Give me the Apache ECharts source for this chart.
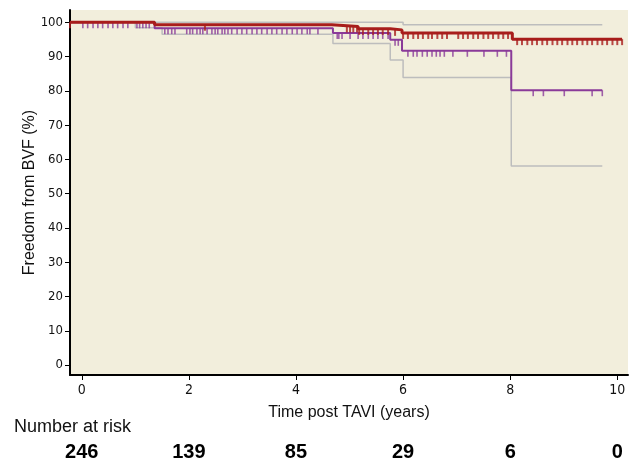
<!DOCTYPE html>
<html lang="en">
<head>
<meta charset="UTF-8">
<title>Freedom from BVF</title>
<style>
  html, body { margin: 0; padding: 0; background: #fff; }
  #main { width: 638px; height: 462px; }
</style>
</head>
<body>
<div id="main"></div>
<script src="https://cdn.jsdelivr.net/npm/echarts@6/dist/echarts.min.js"></script>
<script>
// axis ranges and ticks
const xMin = -0.22, xMax = 10.2;
const xTicks = [0, 2, 4, 6, 8, 10];
const yTicks = [0, 10, 20, 30, 40, 50, 60, 70, 80, 90, 100];
const riskCounts = [246, 139, 85, 29, 6, 0];

// red Kaplan-Meier curve
const redTimes = [xMin, 1.36, 4.67, 5.16, 5.76, 5.98, 8.04, 10.09];
const redSurv  = [100, 99.3, 98.8, 98.1, 97.8, 96.9, 95.1, 95.1];
const redCensor = [xMin, 2.30, 4.95, 5.01, 5.07, 5.14, 5.18, 5.25, 5.35, 5.44, 5.53, 5.62, 5.72, 5.85,
  6.00, 6.09, 6.19, 6.28, 6.37, 6.47, 6.54, 6.64, 6.73, 6.82, 7.03, 7.12, 7.21, 7.31, 7.40, 7.50,
  7.59, 7.68, 7.78, 7.87, 7.96, 8.13, 8.22, 8.32, 8.41, 8.50, 8.60, 8.69, 8.79, 8.88, 8.97, 9.07,
  9.16, 9.25, 9.35, 9.44, 9.53, 9.63, 9.72, 9.81, 9.91, 10.00, 10.09];

// purple Kaplan-Meier curve
const purpleTimes = [xMin, 1.36, 4.69, 5.76, 5.98, 8.02, 9.72];
const purpleSurv  = [100, 98.3, 96.9, 94.9, 91.7, 80.2, 80.2];
const purpleCensor = [0.02, 0.11, 0.21, 0.30, 0.39, 0.49, 0.58, 0.67, 0.77, 0.86, 1.03, 1.08, 1.14, 1.20, 1.26,
  1.55, 1.61, 1.68, 1.74, 1.96, 2.02, 2.07, 2.15, 2.21, 2.26, 2.34, 2.43, 2.49, 2.54, 2.62, 2.67, 2.73,
  2.80, 2.90, 2.99, 3.08, 3.18, 3.27, 3.36, 3.46, 3.55, 3.64, 3.74, 3.83, 3.93, 4.02, 4.11, 4.21, 4.26, 4.41,
  4.77, 4.80, 4.86, 5.01, 5.16, 5.25, 5.35, 5.44, 5.53, 5.62, 5.72, 5.85, 5.91,
  6.09, 6.19, 6.26, 6.36, 6.45, 6.54, 6.62, 6.69, 6.77, 6.93, 7.20, 7.51, 7.76, 7.93,
  8.43, 8.62, 9.01, 9.53, 9.72];

// grey confidence band (purple curve)
const ciTimes = [xMin, 1.00, 1.36, 1.50, 4.69, 5.76, 6.00, 8.02, 9.72];
const ciUpper = [100, 100, 100, 100, 100, 100, 99.3, 99.3, 99.3];
const ciLower = [100, 98.4, 98.4, 96.5, 93.8, 89.0, 83.9, 58.1, 58.1];

function zip(a, b) { return a.map((t, i) => [t, b[i]]); }
function stepAt(times, surv, t) {
  let v = surv[0];
  for (let i = 0; i < times.length; i++) if (times[i] <= t + 1e-9) v = surv[i];
  return v;
}

const RED = '#a81d1b', PURPLE = '#8a3a99', GREY = '#bdbdbd';
const narrow = '"Liberation Sans Narrow", "DejaVu Sans Condensed", sans-serif';
const regular = '"Liberation Sans", Arial, sans-serif';

const chart = echarts.init(document.getElementById('main'));
chart.setOption({
  animation: false,
  backgroundColor: '#fff',
  grid: { left: 70, right: 10, top: 10, bottom: 87, show: true, backgroundColor: '#f2eedc', borderWidth: 0 },
  xAxis: [{
    type: 'value', min: xMin, max: xMax,
    name: 'Time post TAVI (years)', nameLocation: 'middle', nameGap: 30, nameMoveOverlap: false,
    nameTextStyle: { fontFamily: regular, fontSize: 16, color: '#111' },
    axisLine: { show: true, onZero: false, lineStyle: { color: '#000', width: 2 } },
    axisTick: { show: true, length: 5, customValues: xTicks, lineStyle: { color: '#000', width: 1 } },
    axisLabel: { customValues: xTicks, margin: 8, fontFamily: narrow, fontSize: 14, color: '#111' },
    splitLine: { show: false }
  }, {
    type: 'value', min: xMin, max: xMax, position: 'bottom', offset: 59,
    axisLine: { show: false }, axisTick: { show: false }, splitLine: { show: false },
    axisLabel: {
      customValues: xTicks, margin: 8, fontFamily: regular, fontSize: 20, fontWeight: 'bold', color: '#000',
      formatter: v => String(riskCounts[xTicks.indexOf(Math.round(v))])
    }
  }],
  yAxis: {
    type: 'value', min: -2.9, max: 103.6,
    name: 'Freedom from BVF (%)', nameLocation: 'middle', nameGap: 32, nameMoveOverlap: false,
    nameTextStyle: { fontFamily: regular, fontSize: 16, color: '#111' },
    axisLine: { show: true, onZero: false, lineStyle: { color: '#000', width: 2 } },
    axisTick: { show: true, length: 5, customValues: yTicks, lineStyle: { color: '#000', width: 1 } },
    axisLabel: { customValues: yTicks, margin: 7, fontFamily: narrow, fontSize: 13, color: '#111' },
    splitLine: { show: false }
  },
  graphic: [{
    type: 'text', left: 14, top: 418,
    style: { text: 'Number at risk', fontFamily: regular, fontSize: 18, fill: '#111' }
  }],
  series: [
    { type: 'line', step: 'end', showSymbol: false, data: zip(ciTimes, ciUpper),
      lineStyle: { color: GREY, width: 1.5 }, z: 1 },
    { type: 'line', step: 'end', showSymbol: false, data: zip(ciTimes, ciLower),
      lineStyle: { color: GREY, width: 1.5 }, z: 1 },
    { type: 'line', step: 'end', showSymbol: false, data: zip(purpleTimes, purpleSurv),
      lineStyle: { color: PURPLE, width: 2 }, z: 2 },
    { type: 'scatter', symbol: 'rect', symbolSize: [1.6, 6], symbolOffset: [0, 3],
      itemStyle: { color: PURPLE }, z: 2,
      data: purpleCensor.map(t => [t, stepAt(purpleTimes, purpleSurv, t)]) },
    { type: 'line', step: 'end', showSymbol: false, data: zip(redTimes, redSurv),
      lineStyle: { color: RED, width: 3 }, z: 3 },
    { type: 'scatter', symbol: 'rect', symbolSize: [2, 6], symbolOffset: [0, 3],
      itemStyle: { color: RED }, z: 3,
      data: redCensor.map(t => [t, stepAt(redTimes, redSurv, t)]) }
  ]
});
</script>
</body>
</html>
